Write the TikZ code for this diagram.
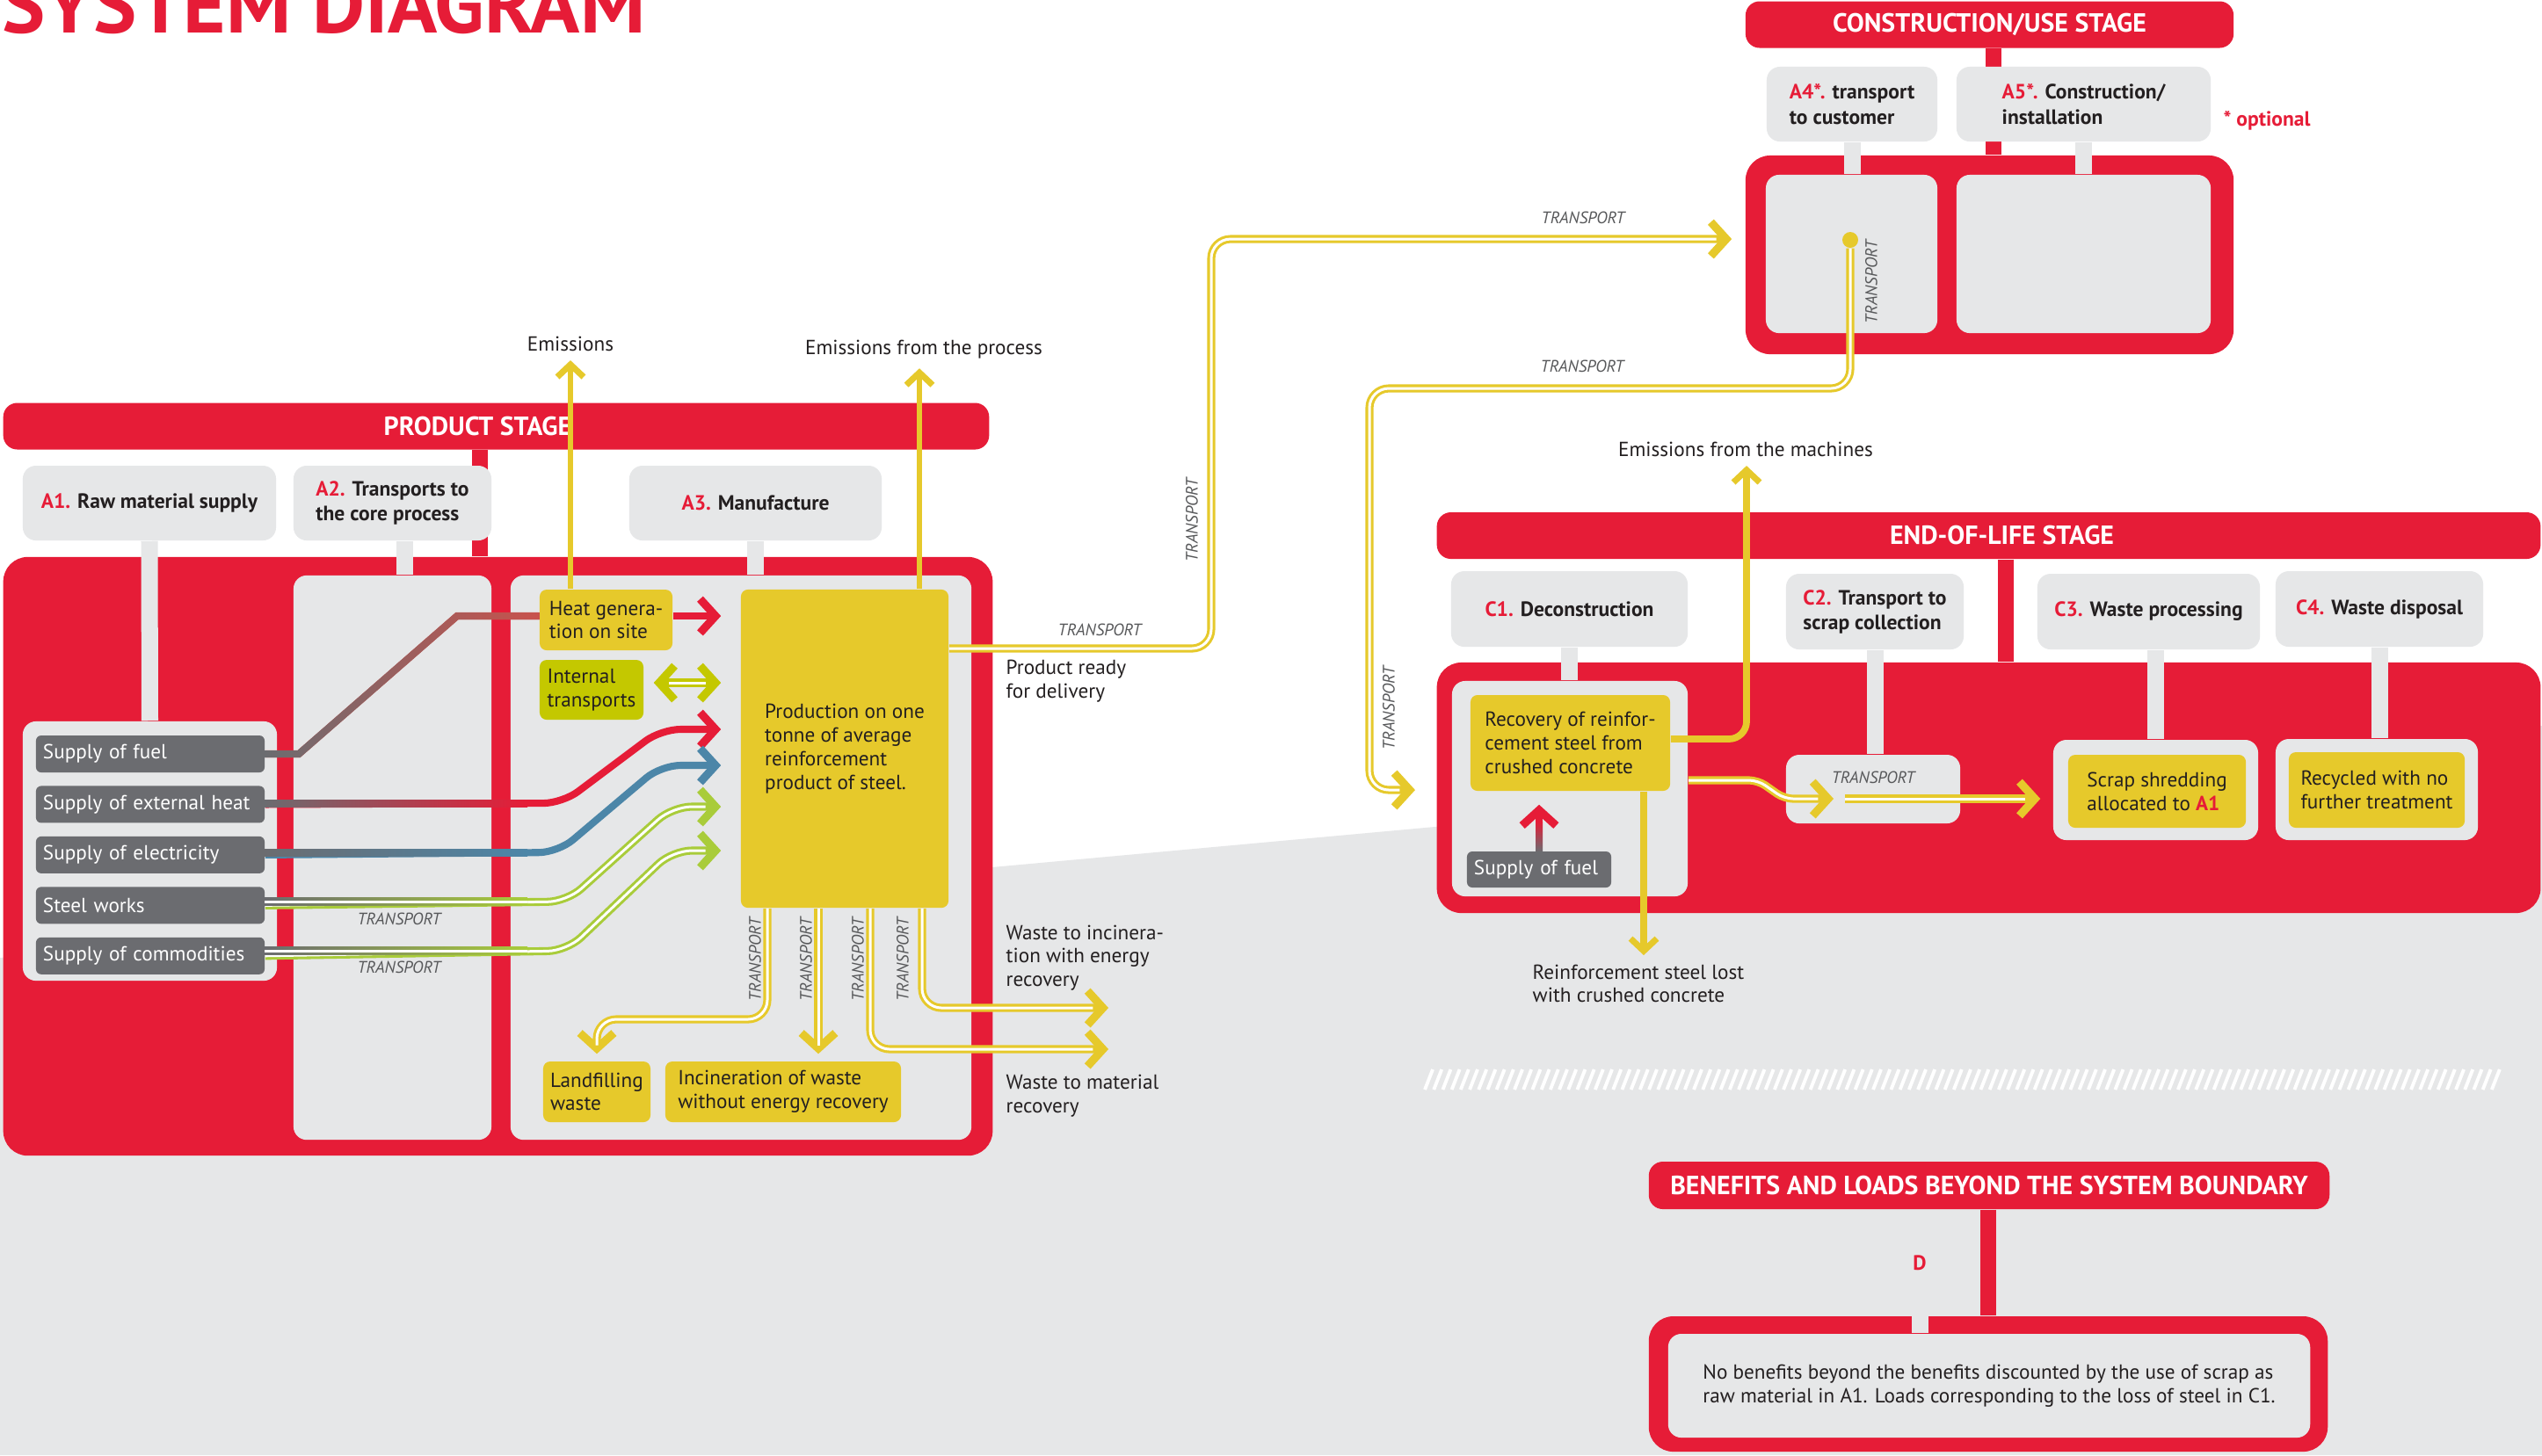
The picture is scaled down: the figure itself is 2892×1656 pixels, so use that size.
\documentclass[tikz,border=0pt]{standalone}
\usepackage{fontspec}
\setmainfont{PT Sans}
\usetikzlibrary{arrows.meta,positioning}

\definecolor{pred}{HTML}{E61C37}
\definecolor{lgray}{HTML}{E6E7E8}
\definecolor{dgray}{HTML}{6B6C70}
\definecolor{ylw}{HTML}{E6C92B}
\definecolor{olv}{HTML}{C4C800}
\definecolor{lgrn}{HTML}{A9CC3A}
\definecolor{blu}{HTML}{4C86A8}
\definecolor{fred}{HTML}{C9524C}
\definecolor{ink}{HTML}{231F20}
\definecolor{tgray}{HTML}{58595B}

\newcommand\txtf{\fontsize{6.6}{7.6}\selectfont}
\newcommand\lblf{\fontsize{6.7}{8}\selectfont\bfseries}
\newcommand\hdrf{\fontsize{8.5}{9.5}\selectfont\bfseries}
\newcommand\trf{\fontsize{5.4}{6}\selectfont\itshape}
\newcommand\nr[1]{\textcolor{pred}{#1}}

\tikzset{
  chev/.tip={Straight Barb[length=5pt,width=11pt,line width=2.6pt]},
  schev/.tip={Straight Barb[length=4pt,width=8.5pt,line width=2pt]},
}

\begin{document}
\begin{tikzpicture}[x=0.01cm,y=-0.01cm,
  redbox/.style={fill=pred,rounded corners=0.28cm,inner sep=0},
  graybox/.style={fill=lgray,rounded corners=0.15cm,inner sep=0},
  hdr/.style={fill=pred,rounded corners=0.16cm,text=white,font=\hdrf,inner sep=0,minimum height=0.53cm},
  lbl/.style={fill=lgray,rounded corners=0.15cm,text=ink,font=\lblf,align=left,inner sep=0,minimum height=0.85cm},
  ybox/.style={fill=ylw,rounded corners=0.08cm,text=ink,font=\txtf,align=left,inner sep=0},
  sbox/.style={fill=dgray,rounded corners=0.06cm,text=white,font=\txtf,text width=2.44cm,align=left,inner xsep=0.08cm,inner ysep=0,minimum height=0.42cm},
  note/.style={text=ink,font=\txtf,align=left,inner sep=0},
  trn/.style={text=tgray,font=\trf,inner sep=0},
  stem/.style={draw=lgray,line width=0.19cm},
  rstem/.style={draw=pred,line width=0.18cm},
  sline/.style={draw=#1,line width=2.3pt,rounded corners=0.22cm},
  dline/.style={draw=#1,line width=2.6pt,rounded corners=0.22cm,postaction={draw=white,line width=0.85pt,-,shorten >=5pt}},
  dline2/.style={draw=#1,line width=2.6pt,postaction={draw=white,line width=0.85pt,-,shorten >=5pt,shorten <=5pt}},
  eline/.style={draw=ylw,line width=#1,-{schev}},
]
\useasboundingbox (0,0) rectangle (2892,1656);
\clip (0,0) rectangle (2892,1656);
\fill[white] (0,0) rectangle (2892,1656);
\fill[lgray] (0,1090) -- (2892,826) -- (2892,1656) -- (0,1656) -- cycle;
\foreach \x in {1621,1631.2,...,2840}
  \draw[white,line width=1.1pt] (\x,1240) -- (\x+9,1217);

\node[anchor=base west,text=pred,font=\fontsize{26.4}{28}\selectfont\bfseries,inner sep=0] (title) at (2,37) {SYSTEM DIAGRAM};

% product stage
\node[hdr,minimum width=11.21cm] (ps) at (564.5,485) {\hspace*{-0.42cm}PRODUCT STAGE};
\node[redbox,minimum width=11.25cm,minimum height=6.81cm] (pbox) at (566.5,974.5) {};
\draw[rstem] (ps.south -| 546,0) -- (pbox.north -| 546,0);
\node[lbl,minimum width=2.88cm] (a_1) at (170,572.5) {\nr{A1.} Raw material supply};
\node[lbl,minimum width=2.25cm] (a_2) at (446.5,572.5) {\nr{A2.} Transports to\\the core process};
\node[lbl,minimum width=2.87cm] (a_3) at (859.5,572.5) {\nr{A3.} Manufacture};
\node[graybox,minimum width=2.89cm,minimum height=2.95cm] (a_1in) at (170.5,968.5) {};
\node[graybox,minimum width=2.25cm,minimum height=6.42cm] (a_2in) at (446.5,976) {};
\node[graybox,minimum width=5.24cm,minimum height=6.42cm] (a_3in) at (843,976) {};
\draw[stem] (a_1.south) -- (a_1in.north);
\draw[stem] ([xshift=0.14cm]a_2.south) -- ([xshift=0.14cm]a_2in.north);
\draw[stem] (a_3.south) -- (a_3in.north -| a_3.south);

\node[sbox] (sup_fuel) at (171,858) {Supply of fuel};
\node[sbox,below=0.14cm of sup_fuel] (sup_heat) {Supply of external heat};
\node[sbox,below=0.14cm of sup_heat] (sup_elec) {Supply of electricity};
\node[sbox,below=0.14cm of sup_elec] (sup_steel) {Steel works};
\node[sbox,below=0.14cm of sup_steel] (sup_comm) {Supply of commodities};

\node[ybox,minimum width=1.51cm,minimum height=0.69cm] (heat) at (689.5,705.5) {Heat genera-\\tion on site};
\node[ybox,fill=olv,minimum width=1.18cm,minimum height=0.68cm] (intr) at (673,785) {Internal\\transports};
\node[ybox,minimum width=2.36cm,minimum height=3.62cm] (prod) at (961,852) {Production on one\\tonne of average\\reinforcement\\product of steel.};
\node[ybox,minimum width=1.22cm,minimum height=0.69cm] (land) at (679,1242.5) {Landfilling\\waste};
\node[ybox,minimum width=2.68cm,minimum height=0.69cm] (incin) at (891,1242.5) {Incineration of waste\\without energy recovery};

% construction / use stage
\node[hdr,minimum width=5.55cm] (cs) at (2263.5,28) {CONSTRUCTION/USE STAGE};
\node[redbox,minimum width=5.55cm,minimum height=2.26cm] (cbox) at (2263.5,290) {};
\draw[rstem] (cs.south -| 2268,0) -- (cbox.north -| 2268,0);
\node[lbl,minimum width=1.94cm] (a_4) at (2107,118.5) {\nr{A4*.} transport\\to customer};
\node[lbl,minimum width=2.89cm] (a_5) at (2370.5,118.5) {\nr{A5*.} Construction/\\installation};
\node[graybox,minimum width=1.95cm,minimum height=1.8cm] (a_4in) at (2106.5,289) {};
\node[graybox,minimum width=2.89cm,minimum height=1.8cm] (a_5in) at (2370.5,289) {};
\draw[stem] (a_4.south) -- (a_4in.north -| a_4.south);
\draw[stem] (a_5.south) -- (a_5in.north);
\node[text=pred,font=\lblf,inner sep=0] (opt) at (2579,137) {* optional};

% end-of-life stage
\node[hdr,minimum width=12.55cm] (es) at (2262.5,609.5) {\hspace*{0.3cm}END-OF-LIFE STAGE};
\node[redbox,minimum width=12.55cm,minimum height=2.85cm] (ebox) at (2262.5,896.5) {};
\draw[rstem] (es.south -| 2282,0) -- (ebox.north -| 2282,0);
\node[lbl,minimum width=2.69cm,minimum height=0.86cm] (c_1) at (1785.5,693) {\nr{C1.} Deconstruction};
\node[lbl,minimum width=2.02cm,minimum height=0.86cm] (c_2) at (2133,696) {\nr{C2.} Transport to\\scrap collection};
\node[lbl,minimum width=2.53cm,minimum height=0.86cm] (c_3) at (2444.5,696) {\nr{C3.} Waste processing};
\node[lbl,minimum width=2.36cm,minimum height=0.86cm] (c_4) at (2707,693) {\nr{C4.} Waste disposal};
\node[graybox,minimum width=2.68cm,minimum height=2.45cm] (c_1in) at (1786,897.5) {};
\node[graybox,minimum width=1.98cm,minimum height=0.78cm] (c_2in) at (2131,898) {};
\node[graybox,minimum width=2.33cm,minimum height=1.14cm] (c_3in) at (2452.5,899) {};
\node[graybox,minimum width=2.30cm,minimum height=1.15cm] (c_4in) at (2704,898.5) {};
\draw[stem] (c_1.south) -- (c_1in.north -| c_1.south);
\draw[stem] (c_2.south) -- (c_2in.north -| c_2.south);
\draw[stem] (c_3.south -| c_3in.north) -- (c_3in.north);
\draw[stem] (c_4.south) -- (c_4in.north -| c_4.south);
\node[ybox,minimum width=2.27cm,minimum height=1.09cm] (rec) at (1786.5,845.5) {Recovery of reinfor-\\cement steel from\\crushed concrete};
\node[sbox,text width=1.48cm,minimum height=0.41cm] (sup_fuel2) at (1751,989.5) {Supply of fuel};
\node[ybox,minimum width=2.02cm,minimum height=0.83cm] (shred) at (2454,900.5) {Scrap shredding\\allocated to \textbf{\nr{A1}}};
\node[ybox,minimum width=2.0cm,minimum height=0.86cm] (recyc) at (2704,899) {Recycled with no\\further treatment};

% beyond the system boundary
\node[hdr,minimum width=7.74cm,minimum height=0.54cm] (bs) at (2263,1349) {BENEFITS AND LOADS BEYOND THE SYSTEM BOUNDARY};
\node[redbox,minimum width=7.72cm,minimum height=1.54cm] (bbox) at (2262,1575) {};
\draw[rstem] (bs.south -| 2262,0) -- (bbox.north -| 2262,0);
\node[graybox,minimum width=7.30cm,minimum height=1.18cm,font=\txtf,text=ink,align=left] (b_in) at (2263,1577) {No benefits beyond the benefits discounted by the use of scrap as\\raw material in A1. Loads corresponding to the loss of steel in C1.};
\node[text=pred,font=\lblf,inner sep=0] (d) at (2184,1437) {D};
\draw[stem] (d.south |- bbox.north) -- (b_in.north -| d.south);

% texts
\node[note] (emis) at (649,391) {Emissions};
\node[note] (emis_p) at (1051,398) {Emissions from the process};
\node[note] (emis_m) at (1986,511) {Emissions from the machines};
\node[note,anchor=west] (ready) at (1144,775) {Product ready\\for delivery};
\node[note,anchor=west] (wst_a_t) at (1144,1090) {Waste to incinera-\\tion with energy\\recovery};
\node[note,anchor=west] (wst_b_t) at (1144,1247) {Waste to material\\recovery};
\node[note,anchor=north west] (lost) at (1743,1097) {Reinforcement steel lost\\with crushed concrete};

% flows into production
\coordinate (tipx) at ([xshift=-0.22cm]prod.west);
\coordinate (it_s) at ([xshift=0.11cm]intr.east);
\draw[draw=fred,line width=2.3pt] (sup_fuel.east) -- (340,858) -- (520,701) -- (heat.west |- 0,701);
\begin{scope}
  \clip (301,854) -- (338.5,854) -- (518.5,697) -- (614,697) -- (614,705) -- (521.5,705) -- (341.5,862) -- (301,862) -- cycle;
  \shade[left color=dgray,right color=fred] (301,690) rectangle (614,870);
\end{scope}
\draw[sline=pred,-{chev}] (heat.east |- 0,701) -- (tipx |- 0,701);
\draw[dline2=olv,{chev}-{chev}] (it_s |- 0,777) -- (tipx |- 0,777);
\draw[sline=pred,-{chev}] (sup_heat.east) -- (640,914) -- (752,830) -- (tipx |- 0,830);
\shade[left color=dgray,right color=pred] (301,910) rectangle (600,918);
\draw[sline=blu,-{chev}] (sup_elec.east) -- (635,970) -- (752,871) -- (tipx |- 0,871);
\shade[left color=dgray,right color=blu] (301,966) rectangle (600,974);
\draw[dline=lgrn,-{chev}] (sup_steel.east) -- (645,1026) -- (765,918) -- (tipx |- 0,918);
\shade[left color=dgray,right color=lgrn] (301,1021.5) rectangle (600,1030.5);
\draw[white,line width=0.85pt] (301,1026) -- (600,1026);
\draw[dline=lgrn,-{chev}] (sup_comm.east) -- (645,1082) -- (765,968) -- (tipx |- 0,968);
\shade[left color=dgray,right color=lgrn] (301,1077.5) rectangle (600,1086.5);
\draw[white,line width=0.85pt] (301,1082) -- (600,1082);
\node[trn] (t_1) at (454,1046) {TRANSPORT};
\node[trn] (t_2) at (454,1101) {TRANSPORT};

% emissions
\draw[eline=1.8pt,shorten >=0.1cm] (heat.north -| emis.south) -- (emis.south);
\draw[eline=1.8pt,shorten >=0.1cm] (prod.north -| 1046,0) -- (emis_p.south -| 1046,0);

% waste
\coordinate (wst_a) at (1261,1147);
\coordinate (wst_b) at (1261,1194);
\draw[dline=ylw,-{chev},shorten >=0.08cm] (prod.south -| 873,0) -- (873,1160) -- (land.north |- 0,1160) -- (land.north);
\draw[dline=ylw,-{chev},shorten >=0.08cm] (prod.south -| 931,0) -- (incin.north -| 931,0);
\draw[dline=ylw,-{chev}] (prod.south -| 990,0) -- (990,1194) -- (wst_b);
\draw[dline=ylw,-{chev}] (prod.south -| 1049,0) -- (1049,1147) -- (wst_a);
\foreach \x/\n in {859/3,917/4,976/5,1027/6}
  \node[trn,rotate=90] (t_\n) at (\x,1092) {TRANSPORT};

% delivery
\coordinate (cin) at ([xshift=-0.15cm]cbox.west);
\draw[dline=ylw,-{chev}] (prod.east |- 0,738) -- (1378,738) -- (1378,272) -- (cin |- 0,272);
\node[trn] (t_7) at (1251,717) {TRANSPORT};
\node[trn,rotate=90] (t_8) at (1356,592) {TRANSPORT};
\node[trn] (t_9) at (1801,248) {TRANSPORT};

% to end of life
\node[circle,fill=ylw,inner sep=0,minimum size=0.18cm] (dot) at (2105,273) {};
\coordinate (ein) at ([xshift=-0.24cm]ebox.west);
\draw[dline=ylw,-{chev}] (dot.south) -- (2105,442) -- (1558,442) -- (1558,899) -- (ein |- 0,899);
\node[trn,rotate=90] (t_10) at (2129,321) {TRANSPORT};
\node[trn] (t_11) at (1800,417) {TRANSPORT};
\node[trn,rotate=90] (t_12) at (1580,806) {TRANSPORT};

% end of life flows
\draw[eline=2.2pt,rounded corners=0.2cm,shorten >=0.1cm] (rec.east |- 0,841) -- (1987,841) -- (emis_m.south -| 1987,0);
\draw[eline=2.2pt,shorten >=0.1cm] (rec.south -| 1870,0) -- (lost.north -| 1870,0);
\draw[sline=pred,-{chev},shorten >=0.15cm] (sup_fuel2.north) -- (rec.south -| sup_fuel2.north);
\shade[bottom color=dgray,top color=pred] (1747,969) rectangle (1755,935);
\coordinate (c2_a) at (2086,909);
\coordinate (c2_b) at (2099,909);
\draw[dline=ylw,-{chev},rounded corners=0.1cm] (c_1in.east |- 0,888) -- (2000,888) -- (2030,909) -- (c2_a);
\draw[dline=ylw,-{chev}] (c2_b) -- ([xshift=-0.14cm]c_3in.west |- c2_b);
\node[trn] (t_13) at (2131,885) {TRANSPORT};
\end{tikzpicture}
\end{document}
